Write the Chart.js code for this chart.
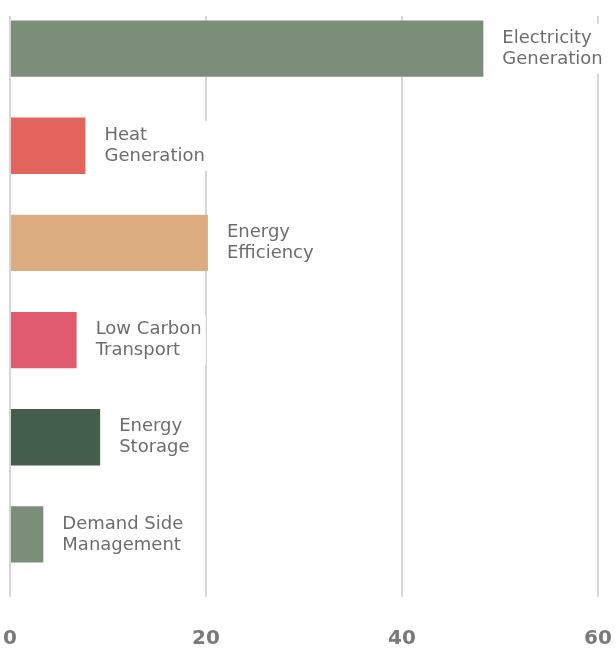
<!DOCTYPE html>
<html>
<head>
<meta charset="utf-8">
<script src="https://cdn.jsdelivr.net/npm/chart.js@4"></script>
<style>
  html, body { margin: 0; padding: 0; background: #fff; }
  #wrap { width: 616px; height: 650px; }
</style>
</head>
<body>
<div id="wrap"><canvas id="myChart" width="616" height="650"></canvas></div>
<script>
// data
const categories = [
    ['Electricity', 'Generation'],
    ['Heat', 'Generation'],
    ['Energy', 'Efficiency'],
    ['Low Carbon', 'Transport'],
    ['Energy', 'Storage'],
    ['Demand Side', 'Management']
];
const values = [48.3, 7.7, 20.2, 6.8, 9.2, 3.4];
const tickValues = [0, 20, 40, 60];
const barColors = ['#7b8e78', '#e2645c', '#ddad82', '#e05a70', '#435e4b', '#7b8e78'];

// grid lines in the reference start at the top of the first bar
const gridTop = {
    id: 'gridTop',
    beforeDatasetsDraw(chart) {
        const c = chart.ctx;
        c.save();
        c.fillStyle = '#ffffff';
        c.fillRect(0, 0, chart.width, 16);
        c.restore();
    }
};

// draws the two-line category name to the right of each bar
const barLabels = {
    id: 'barLabels',
    afterDatasetsDraw(chart) {
        const ctx = chart.ctx;
        const meta = chart.getDatasetMeta(0);
        const lineH = 21;
        ctx.save();
        ctx.font = '18px "DejaVu Sans", sans-serif';
        ctx.textBaseline = 'middle';
        ctx.textAlign = 'left';
        meta.data.forEach((bar, i) => {
            const lines = categories[i];
            const x = bar.x + 19;
            const top = bar.y - (lines.length * lineH) / 2;
            const w = Math.max(...lines.map(l => ctx.measureText(l).width));
            ctx.fillStyle = '#ffffff';
            ctx.fillRect(x - 4, top - 4, w + 8, lines.length * lineH + 8);
            ctx.fillStyle = '#6d6d70';
            lines.forEach((l, j) => ctx.fillText(l, x, top + lineH / 2 + j * lineH));
        });
        ctx.restore();
    }
};

const ctx = document.getElementById('myChart').getContext('2d');
const myChart = new Chart(ctx, {
    type: 'bar',
    data: {
        labels: categories.map(c => c.join(' ')),
        datasets: [{
            data: values,
            backgroundColor: barColors,
            borderWidth: 0,
            categoryPercentage: 1,
            barPercentage: 0.58
        }]
    },
    options: {
        indexAxis: 'y',
        responsive: false,
        animation: false,
        // ticks.padding is counted twice in the axis height, so pull the bottom back
        layout: { padding: { left: 0, right: 0, top: 0, bottom: -31 } },
        plugins: {
            legend: { display: false },
            tooltip: { enabled: false }
        },
        scales: {
            x: {
                min: 0,
                max: 60,
                afterBuildTicks: axis => { axis.ticks = tickValues.map(v => ({ value: v })); },
                // keep ticks.padding from widening the side margins
                afterFit: axis => {
                    axis.paddingLeft = 10;
                    axis.paddingRight = 18;
                },
                grid: {
                    color: '#d6d6d6',
                    lineWidth: 2,
                    drawTicks: true,
                    tickLength: 14
                },
                border: { display: false },
                ticks: {
                    color: '#7a7a7c',
                    padding: 30,
                    font: { family: '"DejaVu Sans", sans-serif', size: 20, weight: 'bold' }
                }
            },
            y: {
                display: false
            }
        }
    },
    plugins: [gridTop, barLabels]
});
</script>
</body>
</html>
